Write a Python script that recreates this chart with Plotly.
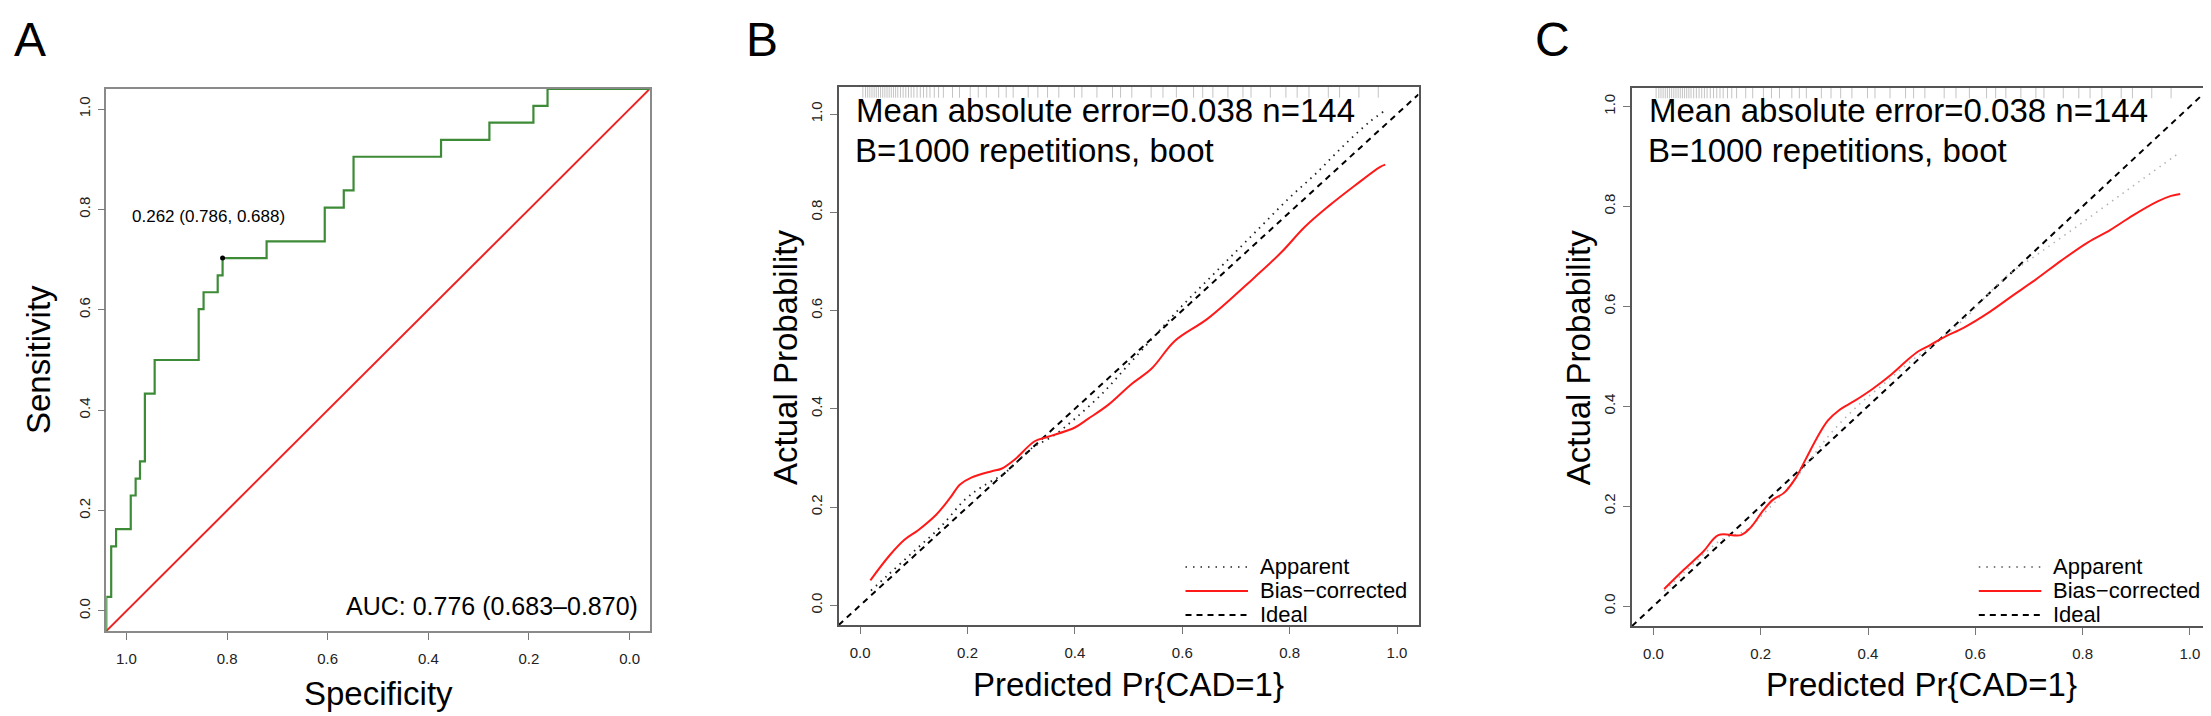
import plotly.graph_objects as go

W, H = 2211, 716
FONT = "Liberation Sans, Arial, Helvetica, sans-serif"

# ---------------- Panel A: ROC ----------------
roc_spec = [1.000, 0.991, 0.982, 0.955, 0.946, 0.938, 0.929, 0.911, 0.830, 0.821, 0.795,
            0.786, 0.705, 0.598, 0.563, 0.545, 0.384, 0.295, 0.214, 0.188, 0.000]
roc_sens = [0.000, 0.063, 0.156, 0.188, 0.250, 0.281, 0.313, 0.438, 0.500, 0.594, 0.625,
            0.656, 0.688, 0.719, 0.781, 0.813, 0.875, 0.906, 0.938, 0.969, 1.000]
chance_spec = [1.0, 0.0]
chance_sens = [0.0, 1.0]
cut_spec = [0.786]
cut_sens = [0.688]
cut_label = "0.262 (0.786, 0.688)"
auc_label = "AUC: 0.776 (0.683–0.870)"

# ---------------- Panel B: calibration ----------------
b_bias_x = [0.019, 0.055, 0.083, 0.108, 0.142, 0.167, 0.186, 0.207, 0.245, 0.263, 0.288,
            0.325, 0.350, 0.400, 0.425, 0.462, 0.505, 0.543, 0.586, 0.648, 0.735, 0.785,
            0.828, 0.872, 0.921, 0.968, 0.978]
b_bias_y = [0.051, 0.102, 0.134, 0.153, 0.185, 0.218, 0.246, 0.260, 0.273, 0.278, 0.297,
            0.334, 0.343, 0.362, 0.380, 0.408, 0.450, 0.482, 0.538, 0.584, 0.668, 0.719,
            0.770, 0.812, 0.854, 0.892, 0.897]
b_app_x = [0.02, 0.05, 0.10, 0.15, 0.195, 0.225, 0.27, 0.32, 0.36, 0.40, 0.45, 0.50,
           0.55, 0.60, 0.65, 0.70, 0.75, 0.80, 0.85, 0.90, 0.95, 0.975]
b_app_y = [0.03, 0.06, 0.11, 0.16, 0.215, 0.24, 0.27, 0.32, 0.345, 0.38, 0.43, 0.49,
           0.55, 0.61, 0.665, 0.72, 0.775, 0.83, 0.88, 0.935, 0.985, 1.005]

# ---------------- Panel C: calibration ----------------
c_bias_x = [0.020, 0.058, 0.093, 0.121, 0.163, 0.181, 0.205, 0.223, 0.244, 0.265, 0.283,
            0.304, 0.325, 0.346, 0.374, 0.409, 0.444, 0.473, 0.494, 0.515, 0.543, 0.578,
            0.627, 0.669, 0.712, 0.761, 0.810, 0.852, 0.894, 0.940, 0.965, 0.982]
c_bias_y = [0.034, 0.074, 0.109, 0.142, 0.142, 0.157, 0.192, 0.213, 0.227, 0.256, 0.292,
            0.335, 0.371, 0.392, 0.410, 0.435, 0.464, 0.492, 0.510, 0.522, 0.539, 0.557,
            0.589, 0.621, 0.653, 0.692, 0.728, 0.753, 0.782, 0.810, 0.821, 0.825]
c_app_x = [0.02, 0.06, 0.10, 0.13, 0.17, 0.21, 0.25, 0.29, 0.33, 0.38, 0.43, 0.48, 0.53,
           0.58, 0.655, 0.72, 0.80, 0.88, 0.95, 0.98]
c_app_y = [0.03, 0.07, 0.11, 0.135, 0.15, 0.19, 0.235, 0.29, 0.345, 0.40, 0.445, 0.49,
           0.53, 0.575, 0.657, 0.707, 0.768, 0.830, 0.884, 0.907]

ideal_xy = [-0.04, 1.04]

# predicted-probability rug (top of calibration panels)
rug = [0.005, 0.010, 0.014, 0.018, 0.022, 0.026, 0.030, 0.034, 0.038, 0.042, 0.046,
       0.050, 0.054, 0.058, 0.062, 0.066, 0.070, 0.075, 0.080, 0.085, 0.090, 0.095,
       0.100, 0.106, 0.112, 0.118, 0.124, 0.130, 0.138, 0.146, 0.155, 0.172, 0.185,
       0.205, 0.220, 0.235, 0.258, 0.272, 0.285, 0.313, 0.331, 0.349, 0.370, 0.399,
       0.413, 0.441, 0.470, 0.485, 0.506, 0.542, 0.564, 0.589, 0.621, 0.638, 0.657,
       0.685, 0.713, 0.728, 0.764, 0.793, 0.814, 0.836, 0.872, 0.893, 0.929, 0.965]

tick_vals = [0.0, 0.2, 0.4, 0.6, 0.8, 1.0]
tick_text = ["0.0", "0.2", "0.4", "0.6", "0.8", "1.0"]

mae_label = "Mean absolute error=0.038 n=144"
boot_label = "B=1000 repetitions, boot"
legend_labels = ["Apparent", "Bias\u2212corrected", "Ideal"]
panel_letters = ["A", "B", "C"]

GREEN = "#3d8b37"
RED = "#ff1a1a"
RUG = "#c4c4c4"


def px(x):
    return x / W


def py(y):
    return 1 - y / H


fig = go.Figure()

# Panel A: an empty trace so the ROC frame/axes are drawn
fig.add_trace(go.Scatter(x=[None], y=[None], mode="lines", xaxis="x", yaxis="y",
                         showlegend=False, hoverinfo="skip"))
# Panel A traces (hidden axes spanning exactly the plot box)
fig.add_trace(go.Scatter(x=chance_spec, y=chance_sens, mode="lines",
                         line=dict(color="#ee2222", width=2), xaxis="x4", yaxis="y4",
                         showlegend=False, cliponaxis=False))
fig.add_trace(go.Scatter(x=roc_spec, y=roc_sens, mode="lines", line_shape="vh",
                         line=dict(color=GREEN, width=2.2), xaxis="x4", yaxis="y4",
                         showlegend=False, cliponaxis=False))
fig.add_trace(go.Scatter(x=cut_spec, y=cut_sens, mode="markers",
                         marker=dict(color="black", size=5), xaxis="x4", yaxis="y4",
                         showlegend=False))

# Panel B traces
fig.add_trace(go.Scatter(x=rug, y=[1.046] * len(rug), mode="markers",
                         marker=dict(symbol="line-ns", size=9,
                                     line=dict(width=1, color=RUG)),
                         xaxis="x2", yaxis="y2", showlegend=False))
fig.add_trace(go.Scatter(x=ideal_xy, y=ideal_xy, mode="lines",
                         line=dict(color="black", width=2, dash="6px,5px"),
                         xaxis="x2", yaxis="y2", showlegend=False))
fig.add_trace(go.Scatter(x=b_app_x, y=b_app_y, mode="lines", line_shape="spline",
                         line=dict(color="#222222", width=1.8, dash="1.5px,5px"),
                         xaxis="x2", yaxis="y2", showlegend=False))
fig.add_trace(go.Scatter(x=b_bias_x, y=b_bias_y, mode="lines", line_shape="spline",
                         line=dict(color=RED, width=2),
                         xaxis="x2", yaxis="y2", showlegend=False))

# Panel C traces
fig.add_trace(go.Scatter(x=rug, y=[1.029] * len(rug), mode="markers",
                         marker=dict(symbol="line-ns", size=9,
                                     line=dict(width=1, color=RUG)),
                         xaxis="x3", yaxis="y3", showlegend=False))
fig.add_trace(go.Scatter(x=ideal_xy, y=ideal_xy, mode="lines",
                         line=dict(color="black", width=2, dash="6px,5px"),
                         xaxis="x3", yaxis="y3", showlegend=False))
fig.add_trace(go.Scatter(x=c_app_x, y=c_app_y, mode="lines", line_shape="spline",
                         line=dict(color="#b5b5b5", width=1.6, dash="1.5px,5px"),
                         xaxis="x3", yaxis="y3", showlegend=False))
fig.add_trace(go.Scatter(x=c_bias_x, y=c_bias_y, mode="lines", line_shape="spline",
                         line=dict(color=RED, width=2),
                         xaxis="x3", yaxis="y3", showlegend=False))

tickfont = dict(family=FONT, size=15, color="#222222")


def xax(domain, rng, linecolor, anchor):
    return dict(domain=domain, range=rng, anchor=anchor, showgrid=False, zeroline=False,
                showline=True, mirror=True, linecolor=linecolor, linewidth=1.5,
                ticks="outside", ticklen=7, tickwidth=1, tickcolor="#777777",
                tickvals=tick_vals, ticktext=tick_text, tickfont=tickfont,
                ticklabelstandoff=6)


def yax(domain, rng, linecolor, anchor):
    return dict(domain=domain, range=rng, anchor=anchor, showgrid=False, zeroline=False,
                showline=True, mirror=True, linecolor=linecolor, linewidth=1.5,
                ticks="outside", ticklen=7, tickwidth=1, tickcolor="#777777",
                tickvals=tick_vals, ticktext=tick_text, tickfont=tickfont,
                tickangle=-90, ticklabelstandoff=2)


A_dom_x = [px(98.3), px(641.7)]
A_dom_y = [py(623), py(81)]
B_dom_x = [px(830.7), px(1410.5)]
B_dom_y = [py(617), py(79)]
C_dom_x = [px(1624.0), px(2203.3)]
C_dom_y = [py(618), py(80)]

fig.update_layout(
    width=W, height=H, margin=dict(l=0, r=0, t=0, b=0),
    paper_bgcolor="white", plot_bgcolor="white",
    font=dict(family=FONT, color="black"),
    showlegend=False,
    xaxis=xax(A_dom_x, [1.04, -0.04], "#8a8a8a", "y"),
    yaxis=yax(A_dom_y, [-0.04, 1.04], "#8a8a8a", "x"),
    xaxis2=xax(B_dom_x, [-0.04, 1.04], "#555555", "y2"),
    yaxis2=yax(B_dom_y, [-0.04, 1.055], "#555555", "x2"),
    xaxis3=xax(C_dom_x, [-0.04, 1.04], "#555555", "y3"),
    yaxis3=yax(C_dom_y, [-0.04, 1.037], "#555555", "x3"),
    xaxis4=dict(domain=A_dom_x, range=[1, 0], visible=False, anchor="y4",
                showgrid=False, zeroline=False),
    yaxis4=dict(domain=A_dom_y, range=[0, 1], visible=False, anchor="x4",
                showgrid=False, zeroline=False),
)

ann = []


def text(x, y, s, size, xanchor="center", yanchor="middle", angle=0):
    ann.append(dict(x=px(x), y=py(y), xref="paper", yref="paper", text=s, showarrow=False,
                    xanchor=xanchor, yanchor=yanchor, textangle=angle,
                    font=dict(family=FONT, size=size, color="black")))


# panel letters
for lx, letter in zip([4, 736, 1525], panel_letters):
    text(lx, 32, letter, 48, xanchor="left")

# Panel A texts
text(370, 685, "Specificity", 33)
text(31, 352, "Sensitivity", 33, angle=-90)
text(200, 209, cut_label, 17)
text(632, 598, auc_label, 25, xanchor="right")

# Panel B / C texts
for dx, (x0, x1) in [(0, B_dom_x), (793.3, C_dom_x)]:
    cx = (x0 + x1) / 2 * W
    text(cx, 676, "Predicted Pr{CAD=1}", 33)
    text(777 + dx, 350, "Actual Probability", 33, angle=-90)
    text(846 + dx, 103, mae_label, 33, xanchor="left")
    text(845 + dx, 142, boot_label, 33, xanchor="left")
    for i, lab in enumerate(legend_labels):
        text(1250 + dx, 558 + 24 * i, lab, 22, xanchor="left")

fig.update_layout(annotations=ann)

# legend samples
shapes = []
legend_styles = [
    [dict(color="#222222", width=1.6, dash="1.5px,6px"),
     dict(color=RED, width=2),
     dict(color="black", width=2, dash="6px,5px")],
    [dict(color="#555555", width=1.6, dash="1.5px,6px"),
     dict(color=RED, width=2),
     dict(color="black", width=2, dash="6px,5px")],
]
for k, dx in enumerate([0, 793.3]):
    for i in range(3):
        yy = py(559 + 24 * i)
        shapes.append(dict(type="line", xref="paper", yref="paper",
                           x0=px(1177.5 + dx), x1=px(1240 + dx), y0=yy, y1=yy,
                           line=legend_styles[k][i]))
fig.update_layout(shapes=shapes)

fig.write_html("out.html")
